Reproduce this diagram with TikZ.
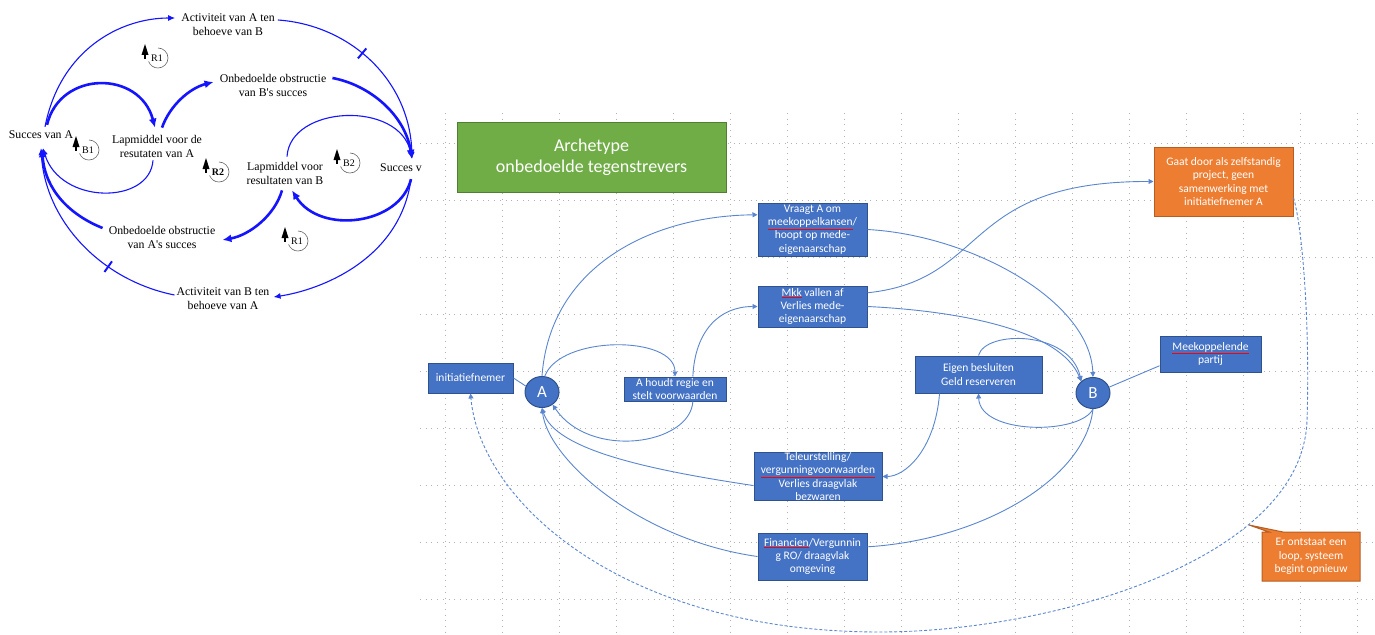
\documentclass[tikz,border=0pt]{standalone}
\usepackage{fontspec}
\setmainfont{Carlito}
\newfontfamily\tijdfont{Liberation Serif}
\usetikzlibrary{arrows.meta,shapes.geometric,shapes.callouts}

\definecolor{kaderblauw}{HTML}{4472C4}
\definecolor{randblauw}{HTML}{2F528F}
\definecolor{lijnblauw}{HTML}{5A86D0}
\definecolor{kaderoranje}{HTML}{ED7D31}
\definecolor{randoranje}{HTML}{B65E22}
\definecolor{kadergroen}{HTML}{70AD47}
\definecolor{randgroen}{HTML}{507E32}
\definecolor{cldblauw}{HTML}{1414FF}

\newcommand\spelfout[1]{\textcolor{red}{\underline{\textcolor{white}{#1}}}}
\newcommand\lusje[4]{%
  \draw[gray!80!black, line width=.6pt] (#2,#3-10) arc[start angle=-90, end angle=160, radius=10];
  \fill (#2-13,#3-14) -- (#2-9.5,#3-3) -- (#2-16.5,#3-3) -- cycle;
  \draw[line width=1.2pt] (#2-13,#3-4) -- (#2-13,#3+1);
  \node[lustekst] (#1) at (#2-1,#3) {#4};}

\tikzset{
  blok/.style={rectangle, fill=kaderblauw, draw=randblauw, line width=1pt, text=white, align=center, inner sep=0pt, font=\fontsize{11.5}{13.3}\selectfont},
  oranjeblok/.style={blok, fill=kaderoranje, draw=randoranje},
  rondje/.style={ellipse, fill=kaderblauw, draw=randblauw, line width=1pt, text=white, minimum width=34pt, minimum height=31pt, inner sep=0pt, font=\fontsize{17}{17}\selectfont},
  verbinding/.style={draw=lijnblauw, line width=.9pt},
  pijl/.style={verbinding, -{Triangle[length=5pt,width=5pt]}},
  cldtekst/.style={align=center, inner sep=0pt, font=\tijdfont\fontsize{11.8}{14}\selectfont},
  lustekst/.style={inner sep=0pt, font=\tijdfont\fontsize{10}{10}\selectfont},
  dun/.style={cldblauw, line width=1.1pt, -{Latex[length=7pt,width=6pt]}},
  dik/.style={cldblauw, line width=2.6pt, -{Latex[length=9pt,width=8pt]}},
  vertraging/.style={sloped, draw=cldblauw, line width=2pt, minimum height=13pt, minimum width=0pt, inner sep=0pt},
  raster/.style={gray!60, line width=.6pt, dash pattern=on .6pt off 5.1pt},
}

\begin{document}
\begin{tikzpicture}[x=1pt,y=-1pt]
    \useasboundingbox (0,0) rectangle (1375,634);
    \fill[white] (0,0) rectangle (1375,634);

    % causal loop diagram
    \node[cldtekst] (actA) at (228,25) {Activiteit van A ten\\behoeve van B};
    \node[cldtekst] (obsB) at (273,85) {Onbedoelde obstructie\\van B's succes};
    \node[cldtekst] (sucA) at (41,135) {Succes van A};
    \node[cldtekst] (lapA) at (157,146) {Lapmiddel voor de\\resutaten van A};
    \node[cldtekst] (lapB) at (285,173) {Lapmiddel voor\\resultaten van B};
    \node[cldtekst, anchor=west] (sucB) at (380,168) {Succes v};
    \node[cldtekst] (obsA) at (162,237) {Onbedoelde obstructie\\van A's succes};
    \node[cldtekst] (actB) at (223,299) {Activiteit van B ten\\behoeve van A};

    \draw[dun] ([xshift=4pt,yshift=4pt]sucA.north) .. controls (60,50) and (120,18) .. ([xshift=-6pt,yshift=7pt]actA.west);
    \draw[dun] ([xshift=3pt,yshift=5pt]actA.east) .. controls (350,25) and (410,80) .. ([xshift=11pt,yshift=5pt]sucB.north) node[vertraging, pos=.44] (vtA) {};
    \draw[dik] ([xshift=6pt,yshift=6pt]sucA.north) .. controls (60,70) and (140,70) .. ([xshift=-2pt,yshift=7pt]lapA.north);
    \draw[dik] ([xshift=5pt,yshift=7pt]lapA.north) .. controls (170,105) and (190,88) .. ([xshift=-6pt,yshift=3pt]obsB.west);
    \draw[dik] ([xshift=6pt,yshift=7pt]obsB.east) .. controls (370,85) and (405,115) .. ([xshift=11pt,yshift=5pt]sucB.north);
    \draw[dun] ([xshift=-4pt,yshift=-3pt]lapA.south) .. controls (150,205) and (60,205) .. ([xshift=2pt,yshift=-9pt]sucA.south);
    \draw[dik] ([xshift=-6pt,yshift=9pt]obsA.west) .. controls (70,215) and (45,190) .. ([xshift=1pt,yshift=-9pt]sucA.south);
    \draw[dun] ([xshift=-2pt,yshift=4pt]actB.west) .. controls (100,280) and (45,220) .. ([yshift=-9pt]sucA.south) node[vertraging, pos=.33] (vtB) {};
    \draw[dun] ([xshift=10pt,yshift=-7pt]sucB.south) .. controls (400,260) and (320,290) .. ([xshift=4pt,yshift=2pt]actB.east);
    \draw[dik] ([xshift=10pt,yshift=-7pt]sucB.south) .. controls (400,225) and (320,235) .. ([xshift=7pt,yshift=-6pt]lapB.south);
    \draw[dun] ([xshift=2pt,yshift=5pt]lapB.north) .. controls (290,105) and (400,100) .. ([xshift=11pt,yshift=5pt]sucB.north);
    \draw[dik] ([xshift=-3pt,yshift=-6pt]lapB.south) .. controls (275,215) and (250,235) .. ([xshift=7pt,yshift=-3pt]obsA.east);

    \lusje{lusR1}{158}{58}{R1}
    \lusje{lusB1}{89}{150}{B1}
    \lusje{lusR2}{219}{172}{\textbf{R2}}
    \lusje{lusB2}{350}{163}{B2}
    \lusje{lusR1b}{298}{241}{R1}

    % raster
    \foreach \gx in {0,...,16}
        \draw[raster] (445+57*\gx,113) -- (445+57*\gx,634);
    \foreach \gy in {0,...,8}
        \draw[raster] (420,143+57*\gy) -- (1372,143+57*\gy);

    % archetype
    \node[fill=kadergroen, draw=randgroen, line width=1pt, text=white, align=center, minimum width=269pt, minimum height=70pt, font=\fontsize{18}{20.7}\selectfont] (titel) at (591.5,157) {Archetype\\onbedoelde tegenstrevers};

    \node[blok, minimum width=109pt, minimum height=53pt] (vraagt) at (812.5,229.5) {Vraagt A om\\\spelfout{meekoppelkansen}/\\hoopt op mede-\\eigenaarschap};
    \node[blok, minimum width=109pt, minimum height=41pt] (mkk) at (812.5,306.5) {\spelfout{Mkk} vallen af\\Verlies mede-\\eigenaarschap};
    \node[blok, minimum width=85pt, minimum height=30pt] (initiatief) at (470.5,378) {initiatiefnemer};
    \node[rondje] (A) at (542,392) {A};
    \node[blok, minimum width=102pt, minimum height=24pt] (houdt) at (675,389) {A houdt regie en\\stelt voorwaarden};
    \node[blok, minimum width=128pt, minimum height=47pt] (teleur) at (818,476.5) {Teleurstelling/\\\spelfout{vergunningvoorwaarden}\\Verlies draagvlak\\bezwaren};
    \node[blok, minimum width=109pt, minimum height=47pt] (fin) at (812.5,556.5) {\spelfout{Financien}/Vergunnin\\g RO/ draagvlak\\omgeving};
    \node[oranjeblok, minimum width=139pt, minimum height=69pt] (gaat) at (1223.5,181.5) {Gaat door als zelfstandig\\project, geen\\samenwerking met\\initiatiefnemer A};
    \node[blok, minimum width=127pt, minimum height=37pt] (eigen) at (978.5,374.5) {Eigen besluiten\\Geld reserveren};
    \node[rondje] (B) at (1093,393) {B};
    \node[blok, minimum width=101pt, minimum height=36pt] (meek) at (1210.5,354) {\spelfout{Meekoppelende}\\partij};
    \node[oranjeblok, rectangle callout, callout absolute pointer={(1249,525)}, callout pointer width=14pt, minimum width=98pt, minimum height=49pt] (lus) at (1311,556.5) {Er ontstaat een\\loop, systeem\\begint opnieuw};

    \draw[pijl] (A.north) .. controls (550,267) and (650,216) .. (vraagt.165);
    \draw[pijl] (vraagt.east) .. controls (970,235) and (1090,300) .. (B.north);
    \draw[pijl] (mkk.14) .. controls (990,280) and (960,181) .. (gaat.west);
    \draw[pijl] (mkk.east) .. controls (960,311) and (1060,330) .. (B.135);
    \draw[pijl] (A.80) .. controls (560,335) and (675,335) .. (houdt.north);
    \draw[pijl] (houdt.35) .. controls (695,330) and (720,306.5) .. (mkk.west);
    \draw[pijl] (houdt.-35) .. controls (690,445) and (590,460) .. (A.-50);
    \draw[pijl] (teleur.188) .. controls (650,470) and (555,450) .. (A.south);
    \draw[pijl] (fin.west) .. controls (640,540) and (548,460) .. (A.south);
    \draw[pijl] (eigen.-154) .. controls (935,450) and (905,476.5) .. (teleur.east);
    \draw[pijl] (B.south) .. controls (1080,435) and (980,435) .. (eigen.south);
    \draw[pijl] (eigen.north) .. controls (985,330) and (1070,330) .. (B.135);
    \draw[verbinding] (B.south) .. controls (1085,480) and (980,540) .. (fin.10);
    \draw[verbinding] (meek.193) -- (B.20);
    \draw[verbinding] (initiatief.east) -- (A.160);
    \draw[pijl, dash pattern=on 3pt off 2pt] (gaat.-13) .. controls (1303,230) and (1310,330) .. (1307,420)
        .. controls (1303,560) and (1050,632) .. (880,632)
        .. controls (620,632) and (480,500) .. (initiatief.south);
\end{tikzpicture}
\end{document}
